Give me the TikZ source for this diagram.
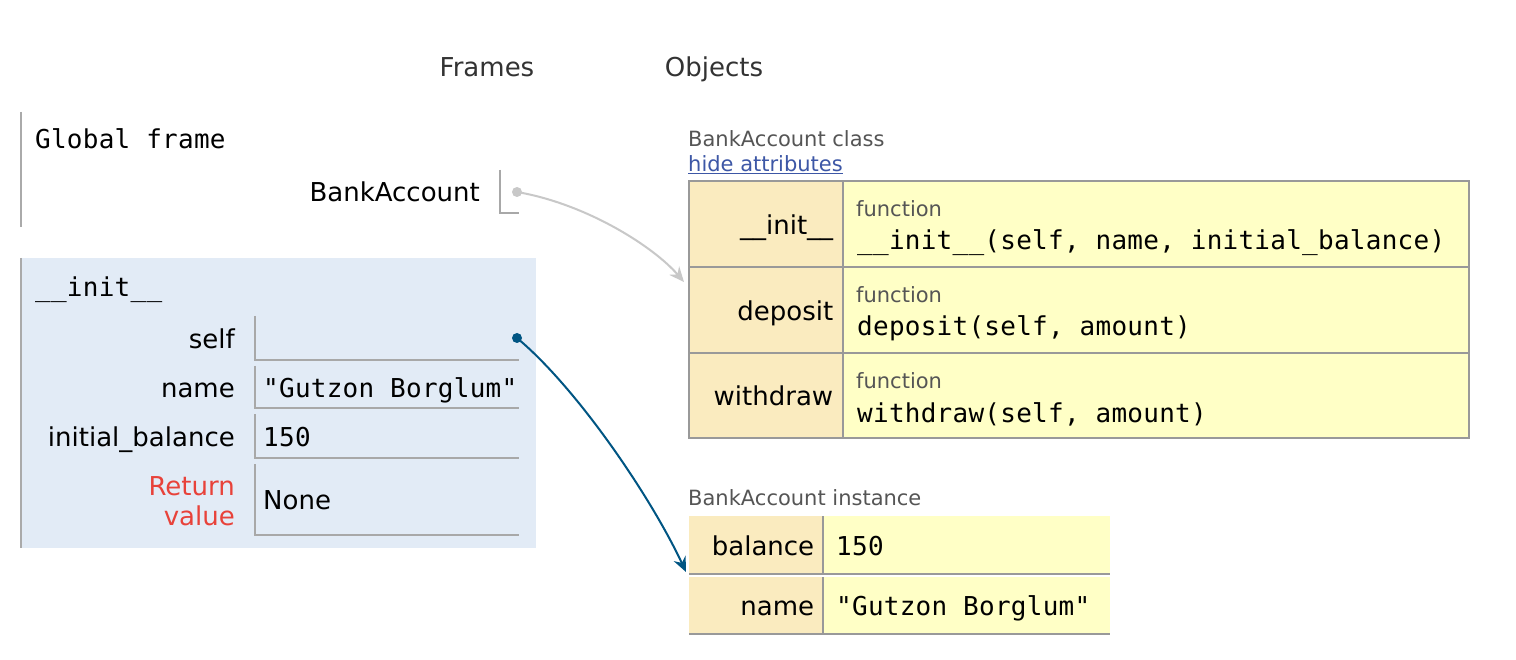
\documentclass[tikz,border=0pt]{standalone}
\usepackage{fontspec}
\setmainfont{DejaVu Sans}
\setmonofont[LetterSpace=1.0]{DejaVu Sans Mono}
\usepackage{xcolor}
\usetikzlibrary{arrows.meta, positioning, calc}

\definecolor{framebg}{HTML}{E2EBF6}
\definecolor{barline}{HTML}{AAAAAA}
\definecolor{keybg}{HTML}{FAEBBF}
\definecolor{valbg}{HTML}{FFFFC6}
\definecolor{tblline}{HTML}{999999}
\definecolor{cellline}{HTML}{A8A8A8}
\definecolor{retred}{HTML}{E8423A}
\definecolor{linkblue}{HTML}{3D57A6}
\definecolor{ptrblue}{HTML}{005583}
\definecolor{ptrgray}{HTML}{C8C8C8}
\definecolor{headgray}{HTML}{333333}
\definecolor{capgray}{HTML}{555555}

\begin{document}
\begin{tikzpicture}[x=1pt, y=-1pt, >={Stealth[length=15pt, width=13pt, inset=5pt]},
  lbl/.style={inner sep=0pt, text height=20pt, text depth=0pt, font=\fontsize{26}{31}\selectfont},
  code/.style={lbl, font=\ttfamily\fontsize{26}{31}\selectfont},
  small/.style={inner sep=0pt, text height=17pt, text depth=0pt, font=\fontsize{21}{25}\selectfont, text=capgray},
  cell/.style 2 args={inner sep=0pt, anchor=north west, minimum width=#1, minimum height=#2},
  bar/.style={barline, line width=2pt},
  edge/.style={cellline, line width=2pt},
  grid/.style={tblline, line width=2pt},
  ptrdot/.style={circle, inner sep=0pt, minimum size=10pt}]
\path[use as bounding box, fill=white] (0,0) rectangle (1516,660);

% headings
\node[lbl, text=headgray] (frames) at (487,67) {Frames};
\node[lbl, text=headgray] (objects) at (714,67) {Objects};

% global frame
\node[cell={515}{115}] (gframe) at (21,112) {};
\draw[bar] (gframe.north west) -- (gframe.south west);
\node[code, anchor=west] (gtitle) at (35,139) {Global frame};
\node[cell={19}{43}] (gbaval) at (500,170) {};
\draw[edge] (gbaval.north west) |- (gbaval.south east);
\node[lbl, anchor=east] (gba) at ([xshift=-20pt]gbaval.west) {BankAccount};
\node[ptrdot, fill=ptrgray] (gbadot) at (517,192) {};

% __init__ frame
\node[cell={515}{290}, fill=framebg] (iframe) at (21,258) {};
\draw[bar] (iframe.north west) -- (iframe.south west);
\node[code, anchor=west] (ititle) at (35,287) {\_\_init\_\_};
\node[cell={264}{44}] (iself) at (255,316) {};
\node[cell={264}{42}] (iname) at (255,366) {};
\node[cell={264}{44}] (ibal) at (255,414) {};
\node[cell={264}{71}] (iret) at (255,464) {};
\draw[edge] (iself.north west) |- (iself.south east);
\draw[edge] (iname.north west) |- (iname.south east);
\draw[edge] (ibal.north west) |- (ibal.south east);
\draw[edge] (iret.north west) |- (iret.south east);
\node[lbl, anchor=east] (lself) at ([xshift=-20pt]iself.west) {self};
\node[lbl, anchor=east] (lname) at ([xshift=-20pt]iname.west) {name};
\node[lbl, anchor=east] (lbal) at ([xshift=-20pt]ibal.west) {initial\_balance};
\node[inner sep=0pt, anchor=east, align=right, text=retred, font=\fontsize{26}{30}\selectfont] (lret) at ([xshift=-20pt,yshift=-2pt]iret.west) {Return\\value};
\node[code, anchor=west] (vname) at ([xshift=8pt]iname.west) {"Gutzon Borglum"};
\node[code, anchor=west] (vbal) at ([xshift=8pt]ibal.west) {150};
\node[lbl, anchor=west] (vret) at ([xshift=8pt]iret.west) {None};
\node[ptrdot, fill=ptrblue] (idot) at (517,338) {};

% class object
\node[small, anchor=west] (clscap) at (688,138) {BankAccount class};
\node[small, anchor=west, text=linkblue] (hide) at (688,163) {\underline{hide attributes}};
\node[cell={154}{86}, fill=keybg] (kinit) at (689,181) {};
\node[cell={626}{86}, fill=valbg] (vinit) at (843,181) {};
\node[cell={154}{86}, fill=keybg] (kdep) at (689,267) {};
\node[cell={626}{86}, fill=valbg] (vdep) at (843,267) {};
\node[cell={154}{85}, fill=keybg] (kwith) at (689,353) {};
\node[cell={626}{85}, fill=valbg] (vwith) at (843,353) {};
\draw[grid] (kinit.north west) rectangle (vwith.south east);
\draw[grid] (kinit.north east) -- (kwith.south east);
\draw[grid] (kdep.north west) -- (vdep.north east);
\draw[grid] (kwith.north west) -- (vwith.north east);
\node[lbl, anchor=east] (linit) at ([xshift=-10pt]kinit.east) {\_\_init\_\_};
\node[lbl, anchor=east] (ldep) at ([xshift=-10pt]kdep.east) {deposit};
\node[lbl, anchor=east] (lwith) at ([xshift=-10pt]kwith.east) {withdraw};
\node[small, anchor=west] (finit) at ($(vinit.north west)+(13,27)$) {function};
\node[small, anchor=west] (fdep) at ($(vdep.north west)+(13,27)$) {function};
\node[small, anchor=west] (fwith) at ($(vwith.north west)+(13,27)$) {function};
\node[code, anchor=west] (sinit) at ($(vinit.north west)+(14,59)$) {\_\_init\_\_(self, name, initial\_balance)};
\node[code, anchor=west] (sdep) at ($(vdep.north west)+(14,59)$) {deposit(self, amount)};
\node[code, anchor=west] (swith) at ($(vwith.north west)+(14,59)$) {withdraw(self, amount)};

% instance object
\node[small, anchor=west] (instcap) at (688,497) {BankAccount instance};
\node[cell={134}{58}, fill=keybg] (kibal) at (689,516) {};
\node[cell={287}{58}, fill=valbg] (vibal) at (823,516) {};
\node[cell={134}{57}, fill=keybg] (kiname) at (689,577) {};
\node[cell={287}{57}, fill=valbg] (viname) at (823,577) {};
\draw[grid] (kibal.south west) -- (vibal.south east);
\draw[grid] (kiname.south west) -- (viname.south east);
\draw[grid] (kibal.north east) -- (kibal.south east);
\draw[grid] (kiname.north east) -- (kiname.south east);
\node[lbl, anchor=east] (libal) at ([xshift=-9pt]kibal.east) {balance};
\node[lbl, anchor=east] (liname) at ([xshift=-9pt]kiname.east) {name};
\node[code, anchor=west] (tibal) at ([xshift=13pt]vibal.west) {150};
\node[code, anchor=west] (tiname) at ([xshift=13pt]viname.west) {"Gutzon Borglum"};

% pointers
\coordinate (clsptr) at ($(kinit.north west)+(-5,101)$);
\coordinate (instptr) at ($(kibal.north west)+(-3,56)$);
\draw[->, ptrgray, line width=2pt] (gbadot.center) .. controls ($(gbadot)+(70,12)$) and ($(clsptr)+(-30,-35)$) .. (clsptr);
\draw[->, ptrblue, line width=2pt] (idot.center) .. controls ($(idot)+(60,50)$) and ($(instptr)+(-35,-75)$) .. (instptr);
\end{tikzpicture}
\end{document}
